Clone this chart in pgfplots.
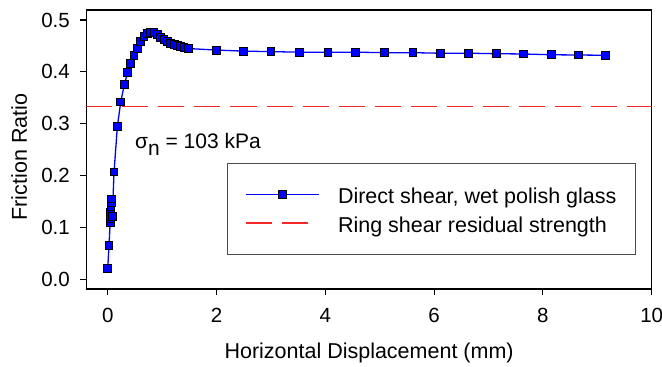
\documentclass[border=0pt]{standalone}
\usepackage{pgfplots}
\pgfplotsset{compat=1.18}
\usepackage{fontspec}
\setmainfont{Liberation Sans}
\definecolor{myred}{RGB}{245,40,40}
\definecolor{myblue}{RGB}{0,0,255}

\pgfplotsset{
  redleg/.style={legend image code/.code={\draw[##1] (0pt,0pt) -- (62pt,0pt); \path[draw=none, fill=none] (-9.5pt,0pt) -- (82.5pt,0pt);}},
  blueleg/.style={legend image code/.code={\draw[##1, mark repeat=2, mark phase=2] plot coordinates {(0pt,0pt) (36.5pt,0pt) (73pt,0pt)}; \path[draw=none, fill=none] (-9.5pt,0pt) -- (82.5pt,0pt);}},
}

\pgfplotstableread{
x y
0.000 0.021
0.024 0.065
0.045 0.110
0.050 0.118
0.055 0.130
0.060 0.140
0.065 0.148
0.070 0.155
0.085 0.121
0.116 0.207
0.177 0.294
0.239 0.342
0.306 0.376
0.367 0.399
0.416 0.416
0.483 0.432
0.545 0.445
0.607 0.458
0.667 0.468
0.728 0.474
0.790 0.476
0.851 0.476
0.912 0.472
0.974 0.467
1.035 0.462
1.096 0.458
1.158 0.455
1.220 0.453
1.280 0.451
1.340 0.449
1.400 0.447
1.480 0.445
2.00 0.442
2.50 0.440
3.00 0.439
3.53 0.438
4.05 0.438
4.56 0.438
5.08 0.437
5.61 0.437
6.11 0.436
6.63 0.436
7.15 0.435
7.64 0.4345
8.15 0.433
8.65 0.4325
9.15 0.432
}\shear

\begin{document}
\begin{tikzpicture}
\begin{axis}[
  scale only axis, width=565.2pt, height=279pt,
  xmin=-0.39, xmax=10, ymin=-0.0187, ymax=0.5193,
  axis line style={line width=1.1pt, black},
  xtick={0,2,4,6,8,10}, ytick={0,0.1,0.2,0.3,0.4,0.5},
  tick align=outside, major tick length=6pt,
  tick style={line width=1.1pt, black},
  xtick pos=bottom, ytick pos=left,
  /pgf/number format/assume math mode=true,
  tick label style={font=\fontsize{20.5}{24}\selectfont},
  yticklabel style={/pgf/number format/fixed, /pgf/number format/fixed zerofill, /pgf/number format/precision=1},
  xticklabel style={anchor=base, inner sep=0pt, yshift=-27.7pt},
  yticklabel style={anchor=east, inner sep=0pt, xshift=-10.5pt},
  every axis x label/.style={at={(rel axis cs:0.5,0)}, anchor=base, yshift=-69.3pt, font=\fontsize{21.5}{25}\selectfont},
  every axis y label/.style={at={(rel axis cs:0,0.473)}, xshift=-59.5pt, rotate=90, anchor=base, font=\fontsize{21.5}{25}\selectfont},
  xlabel={Horizontal Displacement (mm)},
  ylabel={Friction Ratio},
  legend style={at={(0.972,0.4527)}, anchor=north east, draw=black!70, line width=0.8pt,
    inner xsep=9.5pt, inner ysep=22pt, row sep=9.6pt,
    nodes={inner xsep=9.5pt, inner ysep=0pt, text height=18.8pt, text depth=0pt},
    font=\fontsize{21.5}{25}\selectfont},
  legend cell align=left,
  reverse legend,
]
\addplot[myred, line width=1.4pt, dash pattern=on 26pt off 10pt, redleg]
  coordinates {(-0.39,0.333) (10,0.333)};
\addlegendentry{Ring shear residual strength}
\addplot[myblue, line width=1.3pt, mark=square*, mark size=3.9pt,
  mark options={solid, fill=myblue, draw=black, line width=0.9pt}, blueleg]
  table[x=x, y=y] {\shear};
\addlegendentry{Direct shear, wet polish glass}
\node[anchor=base west, inner sep=0pt, font=\fontsize{21}{25}\selectfont] at (axis cs:0.50,0.2526) {σ\raisebox{-0.32em}{n} = 103 kPa};
\end{axis}
\pgfresetboundingbox
\path (current axis.south west) ++(-86.5pt,-78pt) rectangle ++(662pt,367pt);
\end{tikzpicture}
\end{document}
